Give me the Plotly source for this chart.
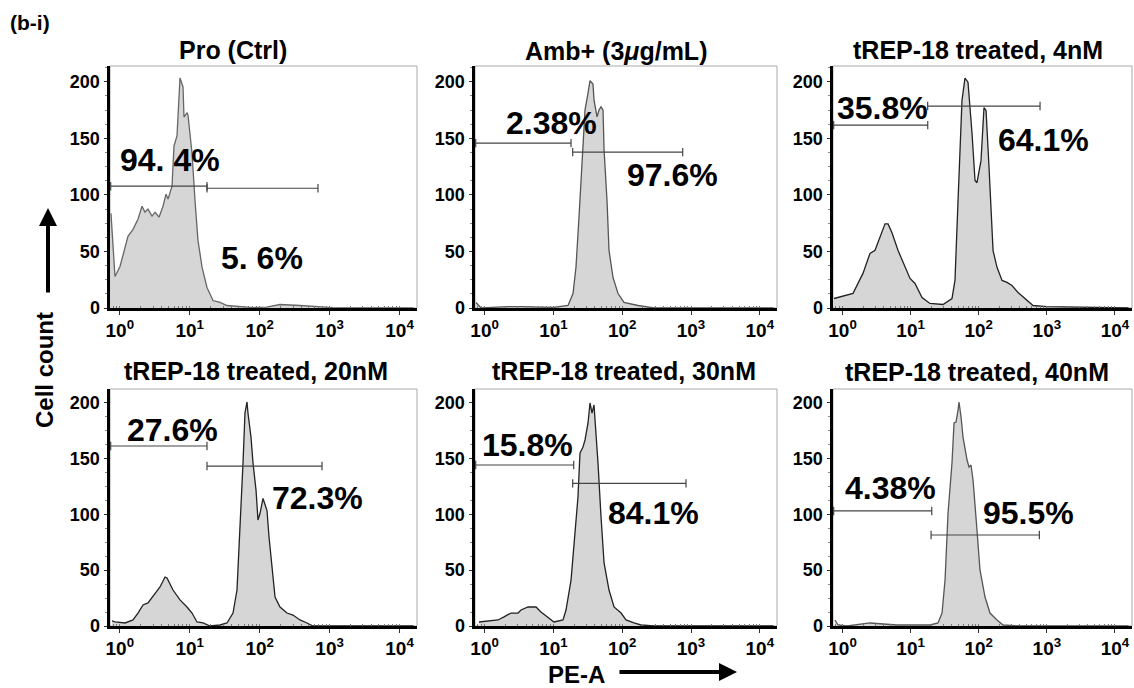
import plotly.graph_objects as go

# ---------------- data ----------------
# x values are log10(PE-A), y values are cell counts
pro_ctrl_log_pe = [-0.126, -0.069, 0.003, 0.075, 0.117, 0.189, 0.26, 0.318, 0.36, 0.403, 0.461, 0.504,
                   0.561, 0.618, 0.661, 0.69, 0.747, 0.775, 0.818, 0.861, 0.904, 0.918, 0.961, 0.975,
                   1.033, 1.075, 1.118, 1.176, 1.247, 1.333, 1.433, 1.533, 1.905, 2.1, 2.291, 2.577,
                   2.863, 3.049, 4.2]
pro_ctrl_count = [83.7, 27.9, 36.7, 54.5, 63.4, 69.6, 78.5, 90.0, 84.7, 87.4, 81.2, 84.7,
                  80.3, 90.0, 100.7, 96.3, 107.8, 143.3, 152.1, 203.5, 195.5, 168.9, 172.5, 170.7,
                  136.9, 95.4, 59.8, 36.2, 18.2, 6.6, 4.9, 2.2, 0.4, 0.8, 3.1, 2.2,
                  1.3, 0.4, 0.0]

amb_log_pe = [-0.125, -0.053, 0.34, 0.529, 1.0, 1.212, 1.285, 1.328, 1.372, 1.43, 1.459, 1.503,
              1.532, 1.575, 1.59, 1.634, 1.663, 1.692, 1.721, 1.736, 1.779, 1.808, 1.866,
              1.939, 2.026, 2.23, 2.462, 4.2]
amb_count = [4.9, 0.0, 1.3, 1.3, 0.5, 2.2, 12.8, 36.2, 80.5, 140.0, 175.0, 190.0,
             201.0, 198.0, 184.0, 169.0, 175.0, 178.0, 175.0, 140.0, 95.0, 51.0, 27.0,
             12.8, 4.9, 2.2, 0.0, 0.0]

t4_log_pe = [-0.125, 0.066, 0.154, 0.3, 0.403, 0.477, 0.58, 0.624, 0.668, 0.726, 0.814, 0.917,
             0.991, 1.064, 1.167, 1.284, 1.475, 1.607, 1.651, 1.696, 1.754, 1.798, 1.842,
             1.901, 1.945, 1.974, 2.033, 2.077, 2.107, 2.151, 2.21, 2.268, 2.342, 2.415,
             2.488, 2.577, 2.679, 2.797, 3.002, 3.82, 4.2]
t4_count = [8.4, 11.1, 12.9, 30.6, 48.3, 51.0, 66.5, 74.4, 74.4, 66.5, 51.0, 36.3,
            26.1, 21.7, 9.3, 4.0, 3.1, 8.4, 24.4, 95.2, 183.8, 203.2, 199.7,
            154.5, 112.7, 110.8, 130.3, 177.3, 174.6, 124.1, 50.8, 36.0, 24.4, 22.6,
            19.9, 13.7, 8.4, 2.2, 1.3, 0.0, 0.0]

t20_log_pe = [-0.111, -0.068, 0.075, 0.189, 0.26, 0.332, 0.403, 0.504, 0.575, 0.647, 0.675, 0.761,
              0.861, 0.961, 1.033, 1.104, 1.19, 1.29, 1.433, 1.533, 1.619, 1.676, 1.719, 1.762,
              1.79, 1.819, 1.833, 1.876, 1.905, 1.948, 1.976, 2.005, 2.048, 2.105, 2.134,
              2.177, 2.22, 2.291, 2.391, 2.477, 2.577, 2.677, 2.763, 4.2]
t20_count = [4.5, 3.6, 2.7, 5.4, 11.6, 18.8, 20.6, 29.5, 34.9, 43.8, 42.9, 32.2,
             23.3, 17.0, 11.6, 3.6, 2.7, 0.0, 0.9, 2.7, 11.6, 32.2, 85.9, 145.8,
             190.5, 200.4, 190.5, 169.0, 145.8, 121.6, 94.8, 100.6, 114.1, 103.3, 79.6,
             50.1, 25.9, 17.0, 11.6, 9.8, 5.4, 2.7, 0.0, 0.0]

t30_log_pe = [-0.082, 0.049, 0.194, 0.282, 0.383, 0.485, 0.529, 0.63, 0.747, 0.819, 0.921, 1.008,
              1.139, 1.183, 1.256, 1.299, 1.357, 1.386, 1.43, 1.459, 1.503, 1.532, 1.561,
              1.59, 1.619, 1.648, 1.692, 1.736, 1.808, 1.881, 1.983, 2.055, 2.171, 2.273,
              2.462, 4.2]
t30_count = [3.6, 4.5, 5.4, 8.1, 11.6, 11.6, 14.3, 17.0, 17.0, 12.5, 8.1, 3.6,
             5.4, 14.3, 41.1, 70.7, 115.4, 154.7, 160.1, 166.4, 181.6, 199.5, 190.5,
             197.7, 175.3, 145.8, 97.5, 56.4, 32.2, 17.0, 11.6, 5.4, 2.7, 0.9,
             0.0, 0.0]

t40_log_pe = [-0.111, -0.067, 0.066, 0.212, 0.403, 0.594, 0.8, 1.284, 1.402, 1.461, 1.505, 1.549,
              1.607, 1.637, 1.666, 1.696, 1.71, 1.74, 1.769, 1.828, 1.857, 1.886, 1.916,
              1.974, 2.018, 2.092, 2.165, 2.268, 2.356, 2.606, 4.2]
t40_count = [5.4, 0.9, 0.0, 0.9, 2.7, 1.8, 0.9, 0.9, 2.7, 11.6, 41.1, 101.1,
             145.8, 181.6, 182.5, 193.2, 200.4, 186.9, 169.0, 148.5, 142.2, 144.0, 130.6,
             85.9, 50.1, 25.9, 11.6, 5.4, 0.9, 0.0, 0.0]

panel_titles = ["Pro (Ctrl)", "Amb+ (3<i>\u03bc</i>g/mL)", "tREP-18 treated, 4nM",
                "tREP-18 treated, 20nM", "tREP-18 treated, 30nM", "tREP-18 treated, 40nM"]
left_gate_pct = ["94. 4%", "2.38%", "35.8%", "27.6%", "15.8%", "4.38%"]
right_gate_pct = ["5. 6%", "97.6%", "64.1%", "72.3%", "84.1%", "95.5%"]

# gates: (log10 start, log10 end, count level)
left_gates = [(-0.13, 1.247, 107.7), (-0.13, 1.256, 145.8), (-0.13, 1.251, 161.7),
              (-0.13, 1.247, 161.0), (-0.13, 1.295, 144.0), (-0.13, 1.31, 102.9)]
right_gates = [(1.247, 2.834, 105.9), (1.28, 2.879, 137.8), (1.25, 2.90, 178.6),
               (1.247, 2.892, 143.1), (1.28, 2.927, 127.6), (1.30, 2.89, 81.4)]

x_tick_vals = [1, 10, 100, 1000, 10000]
x_tick_text = ["10<sup>0</sup>", "10<sup>1</sup>", "10<sup>2</sup>", "10<sup>3</sup>", "10<sup>4</sup>"]
y_tick_vals = [0, 50, 100, 150, 200]

# ---------------- layout config ----------------
W, H = 1134, 688
FONT = "Liberation Sans, Arial, sans-serif"
col_px = [(110, 417), (475, 777), (833, 1132)]
row_px = [(66, 308), (389, 626)]
y_ranges = [[0, 214], [0, 212]]
x_range = [-0.14, 4.25]
# label positions (log10 x, count) for the percentage texts
left_pct_pos = [(0.718, 130.7), (0.965, 163.5), (0.594, 176.8), (0.747, 175.3), (0.63, 161.9), (0.697, 123.4)]
right_pct_pos = [(2.034, 43.9), (2.738, 117.4), (2.944, 148.4), (2.82, 114.5), (2.448, 101.1), (2.723, 101.1)]
title_px = [(233, 50), (616, 51), (978, 50), (256, 371), (624, 371), (977, 372)]

series = [(pro_ctrl_log_pe, pro_ctrl_count), (amb_log_pe, amb_count), (t4_log_pe, t4_count),
          (t20_log_pe, t20_count), (t30_log_pe, t30_count), (t40_log_pe, t40_count)]
line_cols = ["#666666", "#555555", "#222222", "#222222", "#222222", "#555555"]

fig = go.Figure()
annotations = []
shapes = []

for i in range(6):
    r, c = divmod(i, 3)
    n = i + 1
    xa = "x" if n == 1 else f"x{n}"
    ya = "y" if n == 1 else f"y{n}"
    lx, cnt = series[i]
    fig.add_trace(go.Scatter(
        x=[10 ** v for v in lx], y=cnt, xaxis=xa, yaxis=ya, mode="lines",
        line=dict(color=line_cols[i], width=1.3),
        fill="tozeroy", fillcolor="#d6d6d6", hoverinfo="skip"))
    for g in (left_gates[i], right_gates[i]):
        fig.add_trace(go.Scatter(
            x=[10 ** g[0], 10 ** g[1]], y=[g[2], g[2]], xaxis=xa, yaxis=ya,
            mode="lines+markers", line=dict(color="#444444", width=1.2),
            marker=dict(symbol="line-ns-open", size=6, color="#444444", line=dict(width=1.2, color="#444444")),
            hoverinfo="skip"))
    x0, x1 = col_px[c]
    y0, y1 = row_px[r]
    dom_x = [x0 / W, x1 / W]
    dom_y = [1 - y1 / H, 1 - y0 / H]
    fig.layout[f"xaxis{'' if n == 1 else n}"] = dict(
        domain=dom_x, anchor=ya, type="log", range=x_range, automargin=False,
        tickmode="array", tickvals=x_tick_vals, ticktext=x_tick_text,
        ticks="outside", ticklen=4, tickwidth=1, tickcolor="#333",
        showline=True, linecolor="black", linewidth=2.5, showgrid=False, zeroline=False,
        tickfont=dict(family=FONT, size=19, color="black", weight="bold"),
        minor=dict(ticks="inside", ticklen=2, tickcolor="#777", dtick="D1", showgrid=False),
        fixedrange=True)
    fig.layout[f"yaxis{'' if n == 1 else n}"] = dict(
        domain=dom_y, anchor=xa, range=y_ranges[r], automargin=False,
        tickmode="array", tickvals=y_tick_vals,
        ticks="outside", ticklen=3, tickwidth=1, tickcolor="#333",
        showline=True, linecolor="black", linewidth=3.5, showgrid=False, zeroline=False,
        tickfont=dict(family=FONT, size=18, color="black", weight="bold"),
        minor=dict(ticks="outside", ticklen=2, tickcolor="#888", dtick=12.5, showgrid=False),
        fixedrange=True)
    shapes.append(dict(type="rect", xref=f"{xa} domain", yref=f"{ya} domain",
                       x0=0, x1=1, y0=0, y1=1, line=dict(color="#aaaaaa", width=1), layer="below"))
    # percentage labels
    for txt, pos in ((left_gate_pct[i], left_pct_pos[i]), (right_gate_pct[i], right_pct_pos[i])):
        annotations.append(dict(text=txt, x=pos[0], y=pos[1], xref=xa, yref=ya, showarrow=False,
                                font=dict(family=FONT, size=32, color="black", weight="bold"),
                                xanchor="center", yanchor="middle"))
    tx, ty = title_px[i]
    annotations.append(dict(text=panel_titles[i], x=tx / W, y=1 - ty / H, xref="paper", yref="paper",
                            showarrow=False, xanchor="center", yanchor="middle",
                            font=dict(family=FONT, size=25, color="black", weight="bold")))

# figure label and axis titles
annotations.append(dict(text="(b-i)", x=8 / W, y=1 - 23 / H, xref="paper", yref="paper", showarrow=False,
                        xanchor="left", yanchor="middle", font=dict(family=FONT, size=21, color="black", weight="bold")))
annotations.append(dict(text="Cell count", x=45 / W, y=1 - 370 / H, xref="paper", yref="paper", showarrow=False,
                        textangle=-90, xanchor="center", yanchor="middle",
                        font=dict(family=FONT, size=24, color="black", weight="bold")))
annotations.append(dict(text="", x=48 / W, y=1 - 208 / H, xref="paper", yref="paper", showarrow=True,
                        ax=0, ay=86, arrowhead=2, arrowsize=0.9, arrowwidth=4, arrowcolor="black"))
annotations.append(dict(text="PE-A", x=576 / W, y=1 - 674 / H, xref="paper", yref="paper", showarrow=False,
                        xanchor="center", yanchor="middle", font=dict(family=FONT, size=24, color="black", weight="bold")))
annotations.append(dict(text="", x=737 / W, y=1 - 672 / H, xref="paper", yref="paper", showarrow=True,
                        ax=-119, ay=0, arrowhead=2, arrowsize=0.9, arrowwidth=4, arrowcolor="black"))

fig.update_layout(width=W, height=H, margin=dict(l=0, r=0, t=0, b=0, autoexpand=False), showlegend=False,
                  paper_bgcolor="white", plot_bgcolor="white",
                  annotations=annotations, shapes=shapes)

fig.write_html("out.html", config={"displayModeBar": False, "staticPlot": True},
               post_script="document.body.style.margin='0';document.body.style.overflow='hidden';")
